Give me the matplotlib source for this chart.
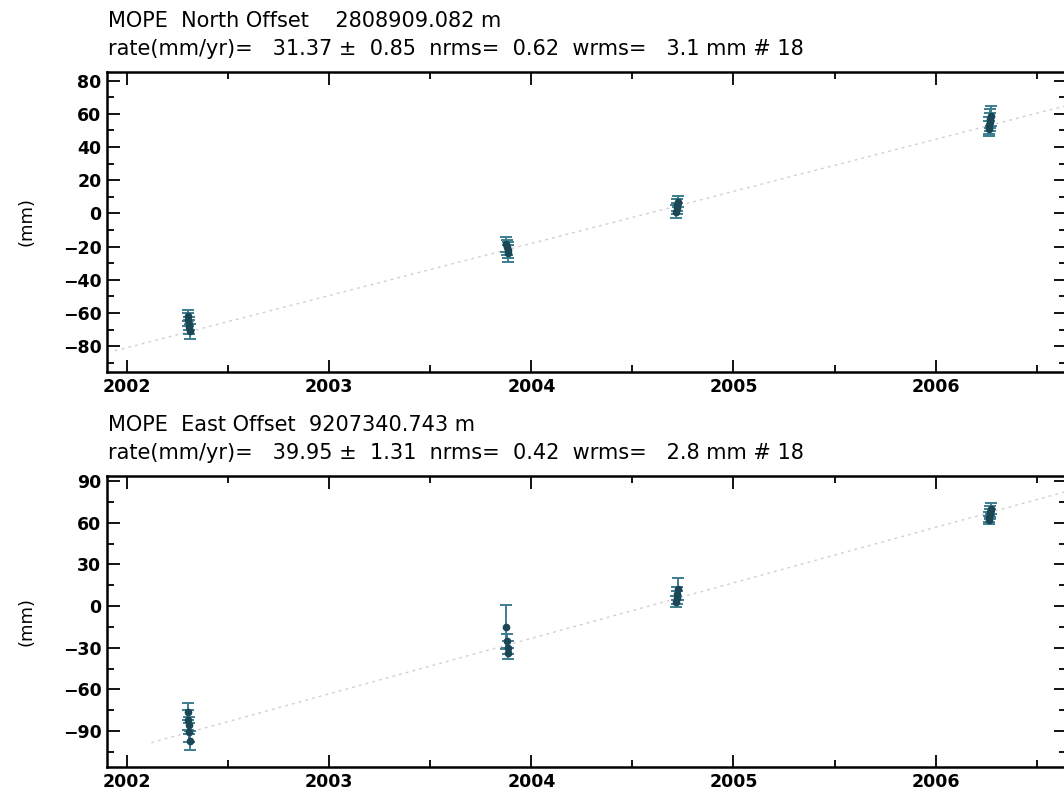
import matplotlib
matplotlib.use("Agg")
import matplotlib.pyplot as plt
from matplotlib.ticker import MultipleLocator, FixedLocator

# =========================================
# DATA
# =========================================
site = "MOPE"

# observation epochs (decimal year), same for both components
epochs = [2002.300, 2002.303, 2002.306, 2002.309, 2002.312,
          2003.877, 2003.880, 2003.883, 2003.886,
          2004.717, 2004.720, 2004.723, 2004.726,
          2006.262, 2006.265, 2006.268, 2006.271, 2006.274]

north_mm = [-61.5, -64.0, -66.5, -68.5, -71.0,
            -18.5, -20.5, -22.0, -24.0,
            1.0, 3.0, 5.0, 7.0,
            51.0, 53.0, 55.0, 57.0, 58.5]
north_err = [3.5, 3.8, 4.0, 4.2, 4.5,
             4.5, 4.8, 5.0, 5.2,
             3.8, 3.5, 3.6, 3.4,
             4.5, 5.0, 5.5, 5.8, 6.0]

east_mm = [-76.0, -82.0, -86.0, -91.0, -97.0,
           -15.0, -25.0, -30.0, -34.0,
           3.0, 6.0, 9.0, 12.0,
           62.0, 64.0, 66.0, 68.0, 70.0]
east_err = [6.0, 7.0, 6.0, 7.0, 7.0,
            16.0, 5.0, 4.5, 4.0,
            4.0, 4.5, 5.0, 8.0,
            3.0, 3.5, 3.5, 4.0, 4.0]

# fit results printed in the headers
north_fit = {"offset": "2808909.082", "rate": 31.37, "sig": 0.85,
             "nrms": 0.62, "wrms": 3.1, "n": 18, "ref": 2004.72, "val": 4.5,
             "start": 2001.94}
east_fit = {"offset": "9207340.743", "rate": 39.95, "sig": 1.31,
            "nrms": 0.42, "wrms": 2.8, "n": 18, "ref": 2004.72, "val": 5.5,
            "start": 2002.12}

year_ticks = [2002, 2003, 2004, 2005, 2006]

# =========================================
# FIGURE
# =========================================
W, H = 1064, 795
fig = plt.figure(figsize=(W / 100, H / 100), dpi=100)
plt.rcParams["font.family"] = ["DejaVu Sans"]

XMIN, XMAX = 2001.901, 2006.645

marker_col = "#1b4656"
bar_col = "#3d7d92"
line_col = "#d4cdd6"


def px_box(left, top, right, bottom):
    return [left / W, 1 - bottom / H, (right - left) / W, (bottom - top) / H]


def header(top_px, comp, fit, gap):
    title = f"{site}  {comp} Offset" + " " * gap + f"{fit['offset']} m"
    rate = (f"rate(mm/yr)=   {fit['rate']:.2f} \u00b1  {fit['sig']:.2f}  "
            f"nrms=  {fit['nrms']:.2f}  wrms=   {fit['wrms']:.1f} mm # {fit['n']}")
    fig.text(108 / W, 1 - (top_px - 51) / H, title,
             fontsize=15, va="center", ha="left")
    fig.text(108 / W, 1 - (top_px - 23) / H, rate,
             fontsize=15, va="center", ha="left")


def panel(box, t, y, err, fit, comp, ylim, major, minor, gap):
    ax = fig.add_axes(box)

    # straight-line fit
    t0 = fit["start"]
    t1 = XMAX + 0.1
    ax.plot([t0, t1],
            [fit["val"] + fit["rate"] * (t0 - fit["ref"]),
             fit["val"] + fit["rate"] * (t1 - fit["ref"])],
            color=line_col, lw=1.0, ls=(0, (2, 3)), zorder=1)

    ax.errorbar(t, y, yerr=err, fmt="o", ms=4.5, color=marker_col,
                mfc=marker_col, mec=marker_col, ecolor=bar_col,
                elinewidth=1.4, capsize=4, capthick=1.4, zorder=3)

    ax.set_xlim(XMIN, XMAX)
    ax.set_ylim(*ylim)
    ax.xaxis.set_major_locator(FixedLocator(year_ticks))
    ax.xaxis.set_minor_locator(MultipleLocator(0.5))
    ax.yaxis.set_major_locator(MultipleLocator(major))
    ax.yaxis.set_minor_locator(MultipleLocator(minor))
    ax.tick_params(which="both", direction="in", top=True, right=True,
                   width=1.3, colors="black")
    ax.tick_params(which="major", length=9)
    ax.tick_params(which="minor", length=5)
    ax.tick_params(axis="both", labelsize=12.5, pad=4)
    for lab in ax.get_xticklabels() + ax.get_yticklabels():
        lab.set_fontweight("bold")
    for s in ax.spines.values():
        s.set_linewidth(1.8)
    ax.set_ylabel("(mm)", fontsize=13)
    ax.yaxis.set_label_coords(-72 / W / box[2], 0.5)

    header(H * (1 - (box[1] + box[3])), comp, fit, gap)
    return ax


panel(px_box(107, 72, 1066, 372), epochs, north_mm, north_err, north_fit,
      "North", (-95.5, 85.2), 20, 10, 4)
panel(px_box(107, 476, 1066, 767), epochs, east_mm, east_err, east_fit,
      "East", (-115.9, 93.6), 30, 15, 2)

fig.savefig("out.png", dpi=100)
